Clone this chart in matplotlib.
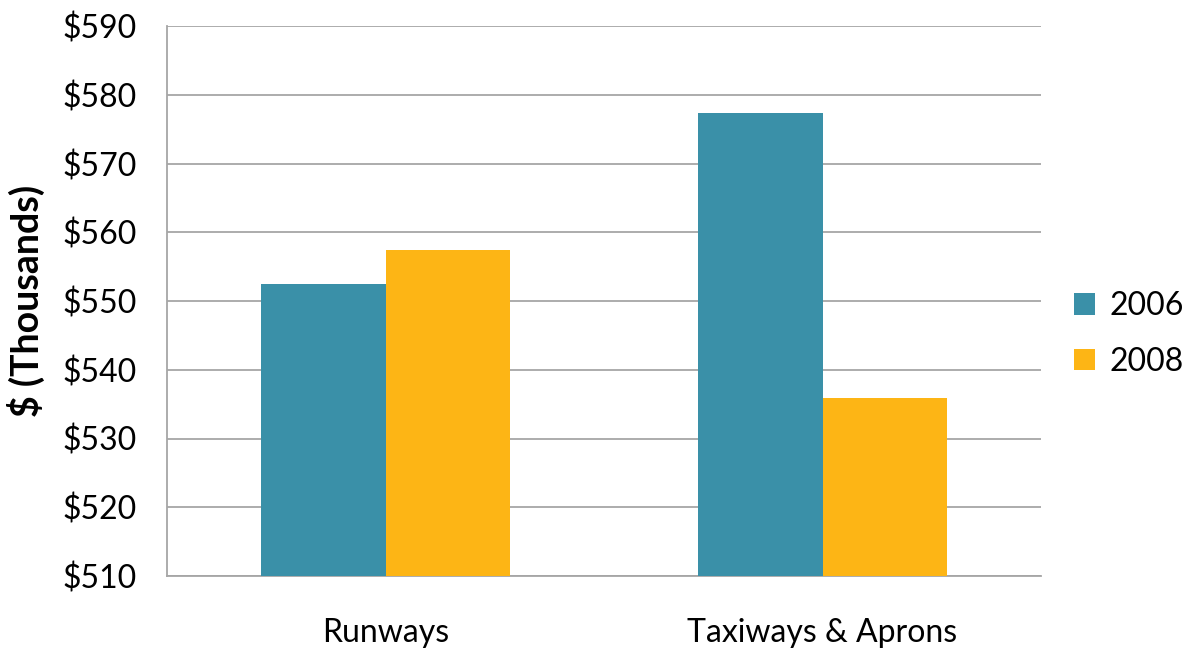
import numpy as np
import matplotlib.pyplot as plt

categories = ['Runways', 'Taxiways & Aprons']
years = ['2006', '2008']
values_2006 = [552.5, 577.4]
values_2008 = [557.4, 535.9]
colors = ['#3A90A8', '#FDB515']

plt.rcParams['font.family'] = ['Lato', 'DejaVu Sans']

fig = plt.figure(figsize=(11.83, 6.52), dpi=100)
ax = fig.add_axes([167/1183, 1 - 576/652, 874/1183, 550/652])

x = np.arange(len(categories))
w = 0.285
ax.bar(x - w/2, values_2006, w, color=colors[0], label=years[0], zorder=3)
ax.bar(x + w/2, values_2008, w, color=colors[1], label=years[1], zorder=3)

ax.set_xlim(-0.5, 1.5)
ax.set_ylim(510, 590)
ax.set_yticks(np.arange(510, 591, 10))
ax.set_yticklabels(['$%d' % v for v in range(510, 591, 10)], fontsize=23)
ax.set_xticks(x)
ax.set_xticklabels(categories, fontsize=23)
ax.tick_params(axis='both', length=0)
ax.tick_params(axis='y', pad=22)
ax.tick_params(axis='x', pad=30)
ax.grid(axis='y', color='#A6A6A6', linewidth=1.3, zorder=0)
for side in ['top', 'right']:
    ax.spines[side].set_visible(False)
for side in ['left', 'bottom']:
    ax.spines[side].set_color('#A6A6A6')
    ax.spines[side].set_linewidth(1.3)

ax.set_ylabel('$ (Thousands)', fontsize=27, fontweight='bold', labelpad=12)

fig.legend(loc='center left', bbox_to_anchor=(1074/1183, 1 - 334/652), frameon=False,
           fontsize=23, handlelength=0.65, handleheight=0.65, handletextpad=0.45,
           labelspacing=0.8, borderpad=0, borderaxespad=0)

fig.savefig('out.png', dpi=100)
